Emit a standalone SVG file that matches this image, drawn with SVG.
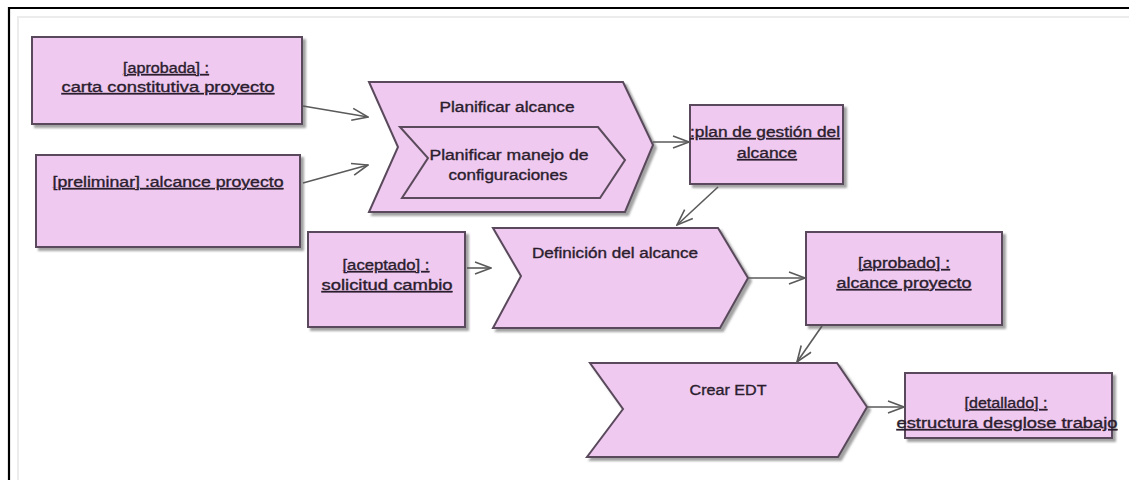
<svg xmlns="http://www.w3.org/2000/svg" width="1129" height="480" viewBox="0 0 1129 480">
<defs>
<filter id="sh" x="-10%" y="-10%" width="130%" height="140%">
<feDropShadow dx="3" dy="3" stdDeviation="1.2" flood-color="#555" flood-opacity="0.55"/>
</filter>
<marker id="ah" viewBox="0 0 18 14" refX="17" refY="7" markerWidth="18" markerHeight="14" markerUnits="userSpaceOnUse" orient="auto">
<path d="M1,1 L17,7 L1,13" fill="none" stroke="#5a5a5a" stroke-width="1.6"/>
</marker>
</defs>
<style>
.box{fill:#efc9ef;stroke:#5a4a5c;stroke-width:2;filter:url(#sh)}
.t{font-family:"Liberation Sans",Arial,sans-serif;font-size:14px;fill:#2b1d2e;stroke:#2b1d2e;stroke-width:0.35;text-anchor:middle}
.u{text-decoration:underline}
.c{fill:none;stroke:#5a5a5a;stroke-width:1.6;marker-end:url(#ah)}
</style>
<rect x="0" y="0" width="1129" height="480" fill="#ffffff"/>
<path d="M18,480 V17 H1129" fill="none" stroke="#ececec" stroke-width="2"/>
<path d="M9,480 V8 H1129" fill="none" stroke="#000" stroke-width="2.2"/>

<g id="carta">
<rect class="box" x="32" y="37" width="270" height="87"/>
<text class="t u" x="166" y="73" textLength="86" lengthAdjust="spacingAndGlyphs">[aprobada] :</text>
<text class="t u" x="168" y="92" textLength="213" lengthAdjust="spacingAndGlyphs">carta constitutiva proyecto</text>
</g>
<g id="preliminar">
<rect class="box" x="36" y="155" width="264" height="92"/>
<text class="t u" x="168" y="187" textLength="231" lengthAdjust="spacingAndGlyphs">[preliminar] :alcance proyecto</text>
</g>
<g id="planificar">
<path class="box" d="M369,82 L623,82 L653,145 L625,212 L369,212 L398,147 Z"/>
<text class="t" x="507" y="112" textLength="135" lengthAdjust="spacingAndGlyphs">Planificar alcance</text>
<path class="box" style="filter:none" d="M400,127 L598,127 L625,160 L600,198 L402,198 L428,158 Z"/>
<text class="t" x="509" y="160" textLength="159" lengthAdjust="spacingAndGlyphs">Planificar manejo de</text>
<text class="t" x="508" y="180" textLength="119" lengthAdjust="spacingAndGlyphs">configuraciones</text>
</g>
<g id="plan">
<rect class="box" x="690" y="105" width="153" height="79"/>
<text class="t u" x="765" y="137" textLength="150" lengthAdjust="spacingAndGlyphs">:plan de gestión del</text>
<text class="t u" x="767" y="158" textLength="60" lengthAdjust="spacingAndGlyphs">alcance</text>
</g>
<g id="solicitud">
<rect class="box" x="308" y="232" width="157" height="95"/>
<text class="t u" x="386" y="270" textLength="87" lengthAdjust="spacingAndGlyphs">[aceptado] :</text>
<text class="t u" x="387" y="290" textLength="131" lengthAdjust="spacingAndGlyphs">solicitud cambio</text>
</g>
<g id="definicion">
<path class="box" d="M493,228 L718,228 L748,278 L720,328 L493,328 L521,276 Z"/>
<text class="t" x="615" y="258" textLength="166" lengthAdjust="spacingAndGlyphs">Definición del alcance</text>
</g>
<g id="aprobado">
<rect class="box" x="806" y="232" width="196" height="93"/>
<text class="t u" x="904" y="268" textLength="92" lengthAdjust="spacingAndGlyphs">[aprobado] :</text>
<text class="t u" x="904" y="288" textLength="135" lengthAdjust="spacingAndGlyphs">alcance proyecto</text>
</g>
<g id="crear">
<path class="box" d="M590,363 L837,363 L867,407 L838,457 L587,457 L623,409 Z"/>
<text class="t" x="728" y="395" textLength="77" lengthAdjust="spacingAndGlyphs">Crear EDT</text>
</g>
<g id="detallado">
<rect class="box" x="905" y="373" width="207" height="65"/>
<text class="t u" x="1006" y="408" textLength="83" lengthAdjust="spacingAndGlyphs">[detallado] :</text>
<text class="t u" x="1007" y="428" textLength="221" lengthAdjust="spacingAndGlyphs">estructura desglose trabajo</text>
</g>

<g id="connectors">
<path class="c" d="M303,106 L368,117"/>
<path class="c" d="M303,183 L368,165"/>
<path class="c" d="M653,142 L689,142"/>
<path class="c" d="M718,187 L677,225"/>
<path class="c" d="M467,268 L491,268"/>
<path class="c" d="M748,278 L805,278"/>
<path class="c" d="M822,326 L797,362"/>
<path class="c" d="M867,407 L904,407"/>
</g>
</svg>
